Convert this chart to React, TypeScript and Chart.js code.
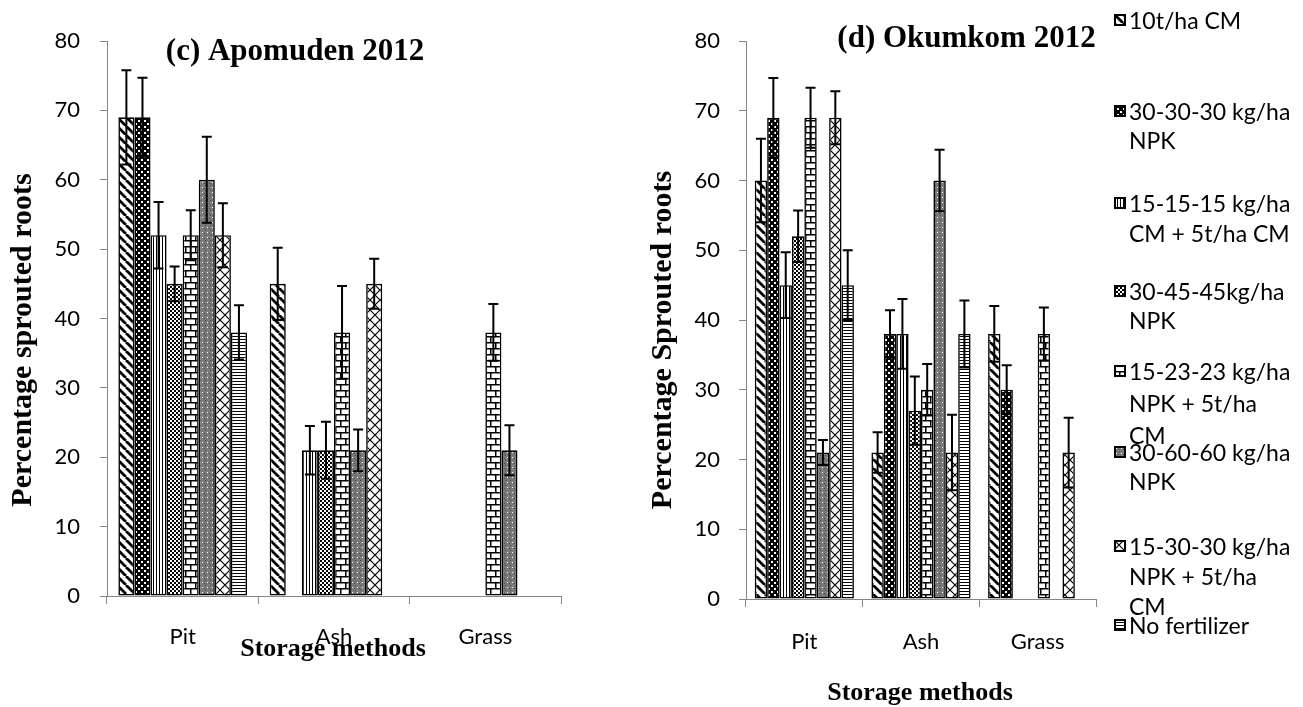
import React, { useEffect, useRef } from "react";
import { Chart, registerables } from "chart.js";

Chart.register(...registerables);

// ---------- data ----------
const categories = ["Pit", "Ash", "Grass"];
const yTickValues = [0, 10, 20, 30, 40, 50, 60, 70, 80];

const seriesNames = [
  "10t/ha CM",
  "30-30-30 kg/ha NPK",
  "15-15-15 kg/ha CM + 5t/ha CM",
  "30-45-45kg/ha NPK",
  "15-23-23 kg/ha NPK + 5t/ha CM",
  "30-60-60 kg/ha NPK",
  "15-30-30 kg/ha NPK + 5t/ha CM",
  "No fertilizer",
];

const legendLines = [
  ["10t/ha CM"],
  ["30-30-30 kg/ha", "NPK"],
  ["15-15-15 kg/ha", "CM + 5t/ha CM"],
  ["30-45-45kg/ha", "NPK"],
  ["15-23-23 kg/ha", "NPK + 5t/ha", "CM"],
  ["30-60-60 kg/ha", "NPK"],
  ["15-30-30 kg/ha", "NPK + 5t/ha", "CM"],
  ["No fertilizer"],
];

// (c) Apomuden 2012 — values per storage method (Pit, Ash, Grass)
const apoCM10 = [69, 45, 0];
const apoNPK30 = [69, 0, 0];
const apoNPK15CM = [52, 21, 0];
const apoNPK45 = [45, 21, 0];
const apoNPK23CM = [52, 38, 38];
const apoNPK60 = [60, 21, 21];
const apoNPK30CM = [52, 45, 0];
const apoNoFert = [38, 0, 0];

const apoCM10Err = [6.8, 5.2, 0];
const apoNPK30Err = [5.7, 0, 0];
const apoNPK15CMErr = [4.8, 3.5, 0];
const apoNPK45Err = [2.5, 4.1, 0];
const apoNPK23CMErr = [3.6, 6.7, 4.1];
const apoNPK60Err = [6.2, 3.0, 3.6];
const apoNPK30CMErr = [4.6, 3.6, 0];
const apoNoFertErr = [3.9, 0, 0];

// (d) Okumkom 2012
const okuCM10 = [60, 21, 38];
const okuNPK30 = [69, 38, 30];
const okuNPK15CM = [45, 38, 0];
const okuNPK45 = [52, 27, 0];
const okuNPK23CM = [69, 30, 38];
const okuNPK60 = [21, 60, 0];
const okuNPK30CM = [69, 21, 21];
const okuNoFert = [45, 38, 0];

const okuCM10Err = [6.0, 2.9, 4.0];
const okuNPK30Err = [5.7, 3.4, 3.5];
const okuNPK15CMErr = [4.7, 5.0, 0];
const okuNPK45Err = [3.7, 4.9, 0];
const okuNPK23CMErr = [4.3, 3.7, 3.8];
const okuNPK60Err = [1.8, 4.4, 0];
const okuNPK30CMErr = [3.8, 5.4, 5.0];
const okuNoFertErr = [5.0, 4.8, 0];

const apoValues = [apoCM10, apoNPK30, apoNPK15CM, apoNPK45, apoNPK23CM, apoNPK60, apoNPK30CM, apoNoFert];
const apoErrors = [apoCM10Err, apoNPK30Err, apoNPK15CMErr, apoNPK45Err, apoNPK23CMErr, apoNPK60Err, apoNPK30CMErr, apoNoFertErr];
const okuValues = [okuCM10, okuNPK30, okuNPK15CM, okuNPK45, okuNPK23CM, okuNPK60, okuNPK30CM, okuNoFert];
const okuErrors = [okuCM10Err, okuNPK30Err, okuNPK15CMErr, okuNPK45Err, okuNPK23CMErr, okuNPK60Err, okuNPK30CMErr, okuNoFertErr];

// ---------- styles ----------
type Kind = "diag" | "darkdots" | "vlines" | "checker" | "brick" | "gray" | "diamond" | "hlines";
const patternKinds: Kind[] = ["diag", "darkdots", "vlines", "checker", "brick", "gray", "diamond", "hlines"];

const SANS = "Lato, 'Noto Sans', sans-serif";
const SERIF = "'Liberation Serif', 'Times New Roman', serif";
const AXIS_GRAY = "#868686";

function makeTile(kind: Kind): HTMLCanvasElement {
  const c = document.createElement("canvas");
  let w = 8, h = 8;
  if (kind === "diag") { w = 9; h = 9; }
  if (kind === "darkdots") { w = 6; h = 6; }
  if (kind === "vlines") { w = 3; h = 3; }
  if (kind === "checker") { w = 4; h = 4; }
  if (kind === "brick") { w = 10; h = 12; }
  if (kind === "gray") { w = 5; h = 5; }
  if (kind === "diamond") { w = 10; h = 10; }
  if (kind === "hlines") { w = 3; h = 3; }
  c.width = w; c.height = h;
  const g = c.getContext("2d")!;
  g.fillStyle = "#fff";
  g.fillRect(0, 0, w, h);
  g.fillStyle = "#000";
  g.strokeStyle = "#000";
  switch (kind) {
    case "diag":
      g.lineWidth = 2.8;
      g.beginPath();
      for (const k of [-9, 0, 9]) { g.moveTo(k, 0); g.lineTo(k + 9, 9); }
      g.stroke();
      break;
    case "darkdots":
      g.fillRect(0, 0, w, h);
      g.fillStyle = "#fff";
      g.fillRect(0, 0, 2, 2);
      g.fillRect(3, 3, 2, 2);
      break;
    case "vlines":
      g.fillRect(0, 0, 1, 3);
      break;
    case "checker":
      g.fillRect(0, 0, 2, 2);
      g.fillRect(2, 2, 2, 2);
      break;
    case "brick":
      g.fillRect(0, 0, 10, 1.5);
      g.fillRect(0, 6, 10, 1.5);
      g.fillRect(0, 0, 1.5, 6);
      g.fillRect(5, 6, 1.5, 6);
      break;
    case "gray":
      g.fillStyle = "#7a7a7a";
      g.fillRect(0, 0, w, h);
      g.fillStyle = "#fff";
      g.fillRect(2, 2, 1, 1);
      g.fillStyle = "#444";
      g.fillRect(0, 0, 1, 1);
      g.fillRect(4, 3, 1, 1);
      break;
    case "diamond":
      g.lineWidth = 1.2;
      g.beginPath();
      g.moveTo(0, 0); g.lineTo(10, 10);
      g.moveTo(10, 0); g.lineTo(0, 10);
      g.stroke();
      break;
    case "hlines":
      g.fillRect(0, 0, 3, 1);
      break;
  }
  return c;
}

function makePattern(ctx: CanvasRenderingContext2D, kind: Kind): CanvasPattern | string {
  const p = ctx.createPattern(makeTile(kind), "repeat");
  return p || "#888";
}

type TextItem = { text: string; x: number; y: number; font: string; baseline: CanvasTextBaseline; rotation?: number };

function textPlugin(items: TextItem[]) {
  return {
    id: "textItems",
    afterDraw(chart: any) {
      const ctx: CanvasRenderingContext2D = chart.ctx;
      items.forEach((it) => {
        ctx.save();
        ctx.font = it.font;
        ctx.fillStyle = "#000";
        ctx.textAlign = "center";
        ctx.textBaseline = it.baseline;
        ctx.translate(it.x, it.y);
        if (it.rotation) ctx.rotate(it.rotation);
        ctx.fillText(it.text, 0, 0);
        ctx.restore();
      });
    },
  };
}

function errorBarPlugin(errs: number[][]) {
  return {
    id: "errorBars",
    afterDatasetsDraw(chart: any) {
      const ctx: CanvasRenderingContext2D = chart.ctx;
      const ys = chart.scales.y;
      ctx.save();
      ctx.strokeStyle = "#000";
      ctx.lineWidth = 2;
      chart.data.datasets.forEach((ds: any, i: number) => {
        const meta = chart.getDatasetMeta(i);
        meta.data.forEach((el: any, j: number) => {
          const v = ds.data[j];
          const e = errs[i][j];
          if (!e) return;
          const x = el.x;
          const yt = ys.getPixelForValue(v + e);
          const yb = ys.getPixelForValue(v - e);
          ctx.beginPath();
          ctx.moveTo(x, yb); ctx.lineTo(x, yt);
          ctx.moveTo(x - 5, yt); ctx.lineTo(x + 5, yt);
          ctx.moveTo(x - 5, yb); ctx.lineTo(x + 5, yb);
          ctx.stroke();
        });
      });
      ctx.restore();
    },
  };
}

type Params = {
  values: number[][];
  errors: number[][];
  yWidth: number;
  xHeight: number;
  padRight: number;
  yTickPad: number;
  xTickPad: number;
  texts: TextItem[];
};

function buildConfig(ctx: CanvasRenderingContext2D, p: Params): any {
  return {
    type: "bar",
    data: {
      labels: categories,
      datasets: p.values.map((v, i) => ({
        label: seriesNames[i],
        data: v,
        backgroundColor: makePattern(ctx, patternKinds[i]),
        borderColor: "#000",
        borderWidth: 1.6,
        borderSkipped: false,
        categoryPercentage: 0.85,
        barPercentage: 1,
      })),
    },
    options: {
      responsive: false,
      animation: false,
      events: [],
      layout: { padding: { left: 0, top: 41, right: p.padRight, bottom: 0 } },
      plugins: { legend: { display: false }, tooltip: { enabled: false }, title: { display: false } },
      scales: {
        x: {
          type: "category",
          offset: true,
          grid: { display: true, drawOnChartArea: false, drawTicks: true, tickLength: 8, color: AXIS_GRAY, offset: true, lineWidth: 1 },
          border: { display: true, color: AXIS_GRAY, width: 1 },
          ticks: { color: "#000", font: { family: SANS, size: 22 }, padding: p.xTickPad, maxRotation: 0, autoSkip: false },
          afterFit: (s: any) => { s.height = p.xHeight; },
        },
        y: {
          min: yTickValues[0],
          max: yTickValues[yTickValues.length - 1],
          afterBuildTicks: (s: any) => { s.ticks = yTickValues.map((v) => ({ value: v })); },
          grid: { display: true, drawOnChartArea: false, drawTicks: true, tickLength: 7, color: AXIS_GRAY, lineWidth: 1 },
          border: { display: true, color: AXIS_GRAY, width: 1 },
          ticks: { color: "#000", font: { family: SANS, size: 22 }, padding: p.yTickPad },
          afterFit: (s: any) => { s.width = p.yWidth; },
        },
      },
    },
    plugins: [errorBarPlugin(p.errors), textPlugin(p.texts)],
  };
}

// legend layout (page coordinates)
const legendFirstLineY = [20, 111, 203, 291, 371, 452, 546, 625];
const legendLineGap = [0, 29, 30, 29, 32, 29, 30, 0];

export default function App() {
  const leftRef = useRef<HTMLCanvasElement>(null);
  const rightRef = useRef<HTMLCanvasElement>(null);
  const swatchRefs = useRef<(HTMLCanvasElement | null)[]>([]);

  useEffect(() => {
    const charts: Chart[] = [];
    const lc = leftRef.current;
    const rc = rightRef.current;
    if (lc) {
      const ctx = lc.getContext("2d")!;
      charts.push(
        new Chart(lc, buildConfig(ctx, {
          values: apoValues,
          errors: apoErrors,
          yWidth: 107,
          xHeight: 111,
          padRight: 69,
          yTickPad: 20,
          xTickPad: 20,
          texts: [
            { text: "(c) Apomuden 2012", x: 295, y: 59.5, font: `bold 31px ${SERIF}`, baseline: "alphabetic" },
            { text: "Percentage sprouted roots", x: 23, y: 340, font: `bold 30px ${SERIF}`, baseline: "middle", rotation: -Math.PI / 2 },
            { text: "Storage methods", x: 333, y: 656, font: `bold 26px ${SERIF}`, baseline: "alphabetic" },
          ],
        }))
      );
    }
    if (rc) {
      const ctx = rc.getContext("2d")!;
      charts.push(
        new Chart(rc, buildConfig(ctx, {
          values: okuValues,
          errors: okuErrors,
          yWidth: 116,
          xHeight: 108,
          padRight: 9,
          yTickPad: 19,
          xTickPad: 22,
          texts: [
            { text: "(d) Okumkom 2012", x: 336.5, y: 47, font: `bold 31px ${SERIF}`, baseline: "alphabetic" },
            { text: "Percentage Sprouted roots", x: 33, y: 340, font: `bold 30px ${SERIF}`, baseline: "middle", rotation: -Math.PI / 2 },
            { text: "Storage methods", x: 290, y: 700, font: `bold 26px ${SERIF}`, baseline: "alphabetic" },
          ],
        }))
      );
    }
    swatchRefs.current.forEach((c, i) => {
      if (!c) return;
      const g = c.getContext("2d")!;
      g.clearRect(0, 0, c.width, c.height);
      g.fillStyle = makePattern(g, patternKinds[i]) as any;
      g.fillRect(0, 0, c.width, c.height);
      g.strokeStyle = "#000";
      g.lineWidth = 2;
      g.strokeRect(1, 1, c.width - 2, c.height - 2);
    });
    return () => charts.forEach((c) => c.destroy());
  }, []);

  return (
    <div style={{ position: "relative", width: 1287, height: 691 }}>
      <canvas ref={leftRef} width={630} height={707} style={{ position: "fixed", left: 0, top: 0 }} />
      <canvas ref={rightRef} width={475} height={707} style={{ position: "fixed", left: 630, top: 0 }} />
      {legendLines.map((lines, i) => (
        <React.Fragment key={i}>
          <canvas
            ref={(el) => { swatchRefs.current[i] = el; }}
            width={12}
            height={12}
            style={{ position: "fixed", left: 1114, top: legendFirstLineY[i] - 6 }}
          />
          {lines.map((t, k) => (
            <div
              key={k}
              style={{
                position: "fixed",
                left: 1129,
                top: legendFirstLineY[i] + k * legendLineGap[i] - 13,
                height: 26,
                lineHeight: "26px",
                fontFamily: SANS,
                fontSize: 23,
                color: "#000",
                whiteSpace: "nowrap",
              }}
            >
              {t}
            </div>
          ))}
        </React.Fragment>
      ))}
    </div>
  );
}
